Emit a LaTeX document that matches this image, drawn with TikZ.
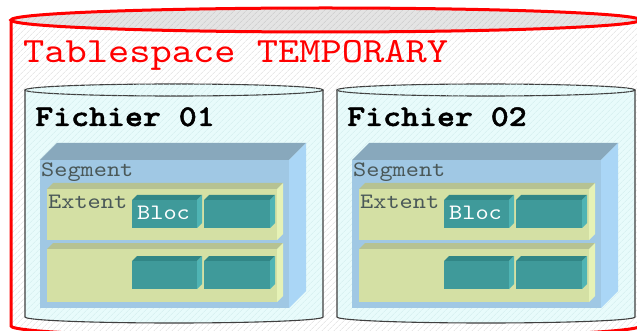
\documentclass[tikz,border=0pt]{standalone}
\usepackage{fontspec}
\setmonofont{lmmono10-regular.otf}[BoldFont=lmmonolt10-bold.otf, BoldFeatures={FakeBold=1.6}, FakeStretch=1.14]
\usetikzlibrary{patterns.meta}

\definecolor{hatchgray}{HTML}{DCDCDC}
\definecolor{capgray}{HTML}{E4E4E4}
\definecolor{caphatch}{HTML}{C8C8C8}
\definecolor{filecyan}{HTML}{E8FBFB}
\definecolor{filehatch}{HTML}{D2ECEC}
\definecolor{fileedge}{HTML}{404040}
\definecolor{segfront}{HTML}{A0C8E4}
\definecolor{segtop}{HTML}{88A8BC}
\definecolor{segside}{HTML}{AAD6F6}
\definecolor{extfront}{HTML}{D4E0A4}
\definecolor{exttop}{HTML}{B6C292}
\definecolor{extside}{HTML}{E6F2B6}
\definecolor{blocfront}{HTML}{3F9A9A}
\definecolor{bloctop}{HTML}{318686}
\definecolor{blocside}{HTML}{4FB4B4}
\definecolor{labelgray}{HTML}{4A5858}

% cuboid: front face (#1,#2)-(#3,#4) in image coordinates (y down), depth #5,
% colours front #6, top #7, side #8
\newcommand\slab[8]{%
  \fill[#7] (#1,-#2) -- (#1+#5,-#2+#5) -- (#3+#5,-#2+#5) -- (#3,-#2) -- cycle;
  \fill[#8] (#3,-#2) -- (#3+#5,-#2+#5) -- (#3+#5,-#4+#5) -- (#3,-#4) -- cycle;
  \fill[#6] (#1,-#2) rectangle (#3,-#4);
}

\tikzset{
  hatched/.style 2 args={fill=#1, postaction={pattern={Lines[angle=45,distance=4pt,line width=0.6pt]}, pattern color=#2}},
  txt/.style={inner sep=0pt, anchor=base west},
  titletxt/.style={txt, text=red, font=\ttfamily\fontsize{35.5}{36}\selectfont},
  filetxt/.style={txt, text=black, font=\ttfamily\bfseries\fontsize{30}{30}\selectfont},
  smalltxt/.style={txt, text=labelgray, font=\ttfamily\fontsize{22}{22}\selectfont},
  bloctxt/.style={txt, text=white, font=\ttfamily\fontsize{22}{22}\selectfont},
}

\begin{document}
\begin{tikzpicture}[x=1pt,y=1pt]
\useasboundingbox (0,0) rectangle (637,-331);
\clip (0,0) rectangle (637,-331);

% tablespace cylinder
\path[hatched={white}{hatchgray}]
  (11,-20) -- (11,-326) arc[start angle=180,end angle=360,x radius=314.5,y radius=12]
  -- (640,-20) -- cycle;
\path[hatched={capgray}{caphatch}] (325.5,-20) ellipse[x radius=314.5,y radius=12];
\draw[red,line width=3pt]
  (11,-20) -- (11,-326) arc[start angle=180,end angle=360,x radius=314.5,y radius=12]
  -- (640,-20);
\draw[red,line width=3pt] (325.5,-20) ellipse[x radius=314.5,y radius=12];

\node[titletxt] (title) at (23,-63) {Tablespace TEMPORARY};

% data files
\foreach \n/\dx in {1/0,2/312}{
  \begin{scope}[xshift=\dx pt]
    \path[hatched={filecyan}{filehatch}]
      (25,-90) -- (25,-317) arc[start angle=180,end angle=360,x radius=149,y radius=6]
      -- (323,-90) -- cycle;
    \draw[fileedge,line width=1.1pt]
      (25,-90) -- (25,-317) arc[start angle=180,end angle=360,x radius=149,y radius=6]
      -- (323,-90);
    \draw[fileedge,line width=1.1pt,hatched={filecyan}{filehatch}]
      (174,-90) ellipse[x radius=149,y radius=6];
    \node[filetxt] (file\n) at (35,-126) {Fichier 0\n};

    % segment
    \slab{40}{160}{289}{308}{17}{segfront}{segtop}{segside}
    \node[smalltxt] (seg\n) at (41,-177) {Segment};

    % extents
    \slab{47}{189}{277}{240}{6}{extfront}{exttop}{extside}
    \slab{47}{249}{277}{302}{6}{extfront}{exttop}{extside}
    \node[smalltxt] (ext\n) at (48,-208) {Extent};

    % blocks
    \slab{132}{200}{197}{228}{5}{blocfront}{bloctop}{blocside}
    \slab{204}{200}{270}{228}{5}{blocfront}{bloctop}{blocside}
    \slab{132}{261}{197}{289}{5}{blocfront}{bloctop}{blocside}
    \slab{204}{261}{270}{289}{5}{blocfront}{bloctop}{blocside}
    \node[bloctxt] (bloc\n) at (137,-219) {Bloc};
  \end{scope}
}
\end{tikzpicture}
\end{document}
